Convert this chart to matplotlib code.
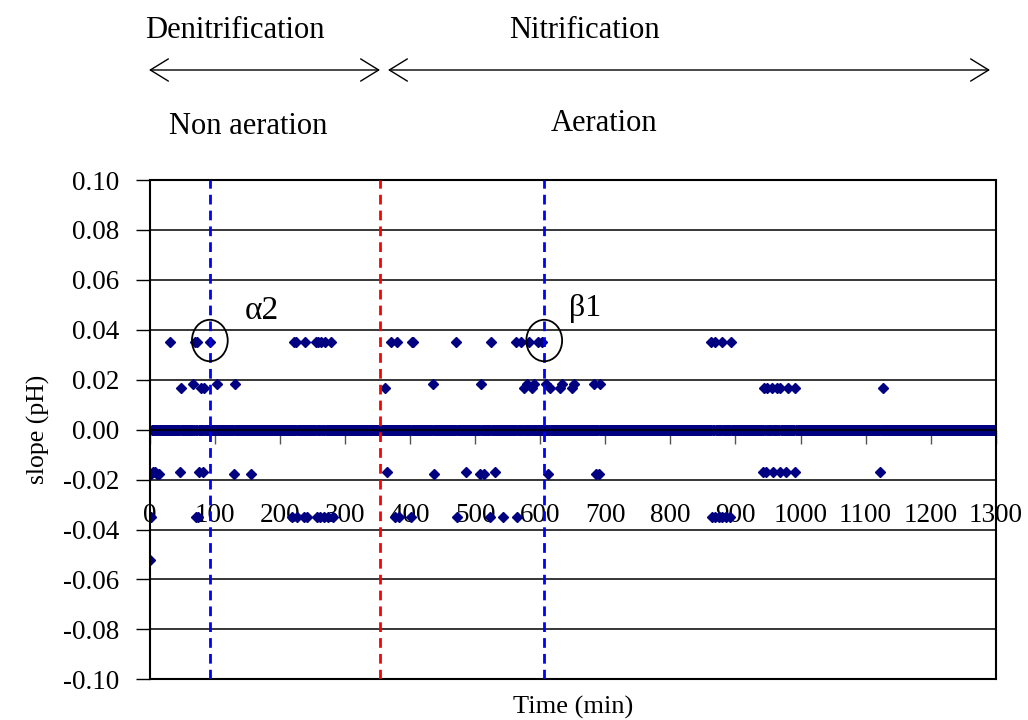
import numpy as np
import matplotlib.pyplot as plt
from matplotlib.patches import Ellipse, FancyArrowPatch

plt.rcParams['font.family'] = ['Liberation Serif', 'DejaVu Serif']
plt.rcParams['axes.unicode_minus'] = False

# sampling grid of the logger (1 min), slope is 0 except at the points below
minutes = np.arange(0, 1301)

# non zero slope readings, grouped by value
t_p035 = [30, 69, 73, 92, 218, 221, 225, 238, 255, 259, 263, 269, 279, 370, 380,
          402, 405, 471, 524, 562, 571, 583, 597, 602, 862, 868, 874, 880, 886, 893]
t_p018 = [66, 103, 131, 435, 509, 580, 591, 608, 634, 651, 682, 691]
t_p017 = [48, 78, 83, 361, 575, 587, 615, 631, 648, 944, 949, 956, 964, 969, 980, 992, 1126]
t_m017 = [5, 8, 46, 76, 81, 364, 486, 531, 942, 947, 958, 968, 978, 991, 1122]
t_m018 = [2, 11, 14, 129, 155, 437, 508, 514, 612, 686, 690]
t_m035 = [1, 70, 74, 218, 226, 236, 241, 256, 261, 267, 274, 282, 377, 382, 401,
          472, 523, 543, 564, 864, 869, 874, 879, 886, 892]
t_m052 = [0]

levels = {0.0352: t_p035, 0.0182: t_p018, 0.0168: t_p017,
          -0.0171: t_m017, -0.0179: t_m018, -0.0351: t_m035, -0.0522: t_m052}

slope = np.zeros(len(minutes))
for v, ts in levels.items():
    for t in ts:
        slope[t] = v

xticks = list(range(0, 1301, 100))
yticks = [-0.10, -0.08, -0.06, -0.04, -0.02, 0.00, 0.02, 0.04, 0.06, 0.08, 0.10]

# phase markers and circled points
t_alpha2 = 92
t_switch = 354
t_beta1 = 606

fig = plt.figure(figsize=(10.28, 7.2), dpi=100)
ax = fig.add_axes([0.1459, 0.0565, 0.8227, 0.6935])

ax.plot(minutes, slope, 'D', color='#000080', markersize=4.6, zorder=2)

ax.axvline(t_alpha2, color='#0000FF', lw=2, ls=(0, (3.5, 2.2)), zorder=3)
ax.axvline(t_switch, color='#FF0000', lw=2, ls=(0, (3.5, 2.2)), zorder=3)
ax.axvline(t_beta1, color='#0000FF', lw=2, ls=(0, (3.5, 2.2)), zorder=3)

for tc in (t_alpha2, t_beta1):
    ax.add_patch(Ellipse((tc, 0.0357), 55, 0.0166, fill=False, edgecolor='black', lw=1.3, zorder=4))
ax.text(172, 0.0475, 'α2', fontsize=24, ha='center', va='center')
ax.text(669, 0.0485, 'β1', fontsize=23, ha='center', va='center')

ax.set_xlim(0, 1300)
ax.set_ylim(-0.10, 0.10)
ax.set_yticks(yticks)
ax.set_yticklabels(['%.2f' % v for v in yticks])
ax.set_xticks(xticks)
ax.set_xticklabels([str(v) for v in xticks])

ax.yaxis.grid(True, color='black', lw=1.1)
ax.set_axisbelow(True)
ax.spines['bottom'].set_position(('data', 0))
ax.spines['bottom'].set_linewidth(1.2)
for s in ('left', 'right', 'top'):
    ax.spines[s].set_linewidth(1.5)
ax.axhline(-0.10, color='black', lw=1.5, clip_on=False)

ax.tick_params(axis='y', direction='out', length=10, width=1, pad=12, labelsize=19.5)
ax.tick_params(axis='x', direction='out', length=10, width=1, pad=43, labelsize=19.5, color='#555555')

ax.set_xlabel('Time (min)', fontsize=19)
ax.xaxis.set_label_coords(0.5, -0.033)
ax.set_ylabel('slope (pH)', fontsize=18.5)
ax.yaxis.set_label_coords(-0.118, 0.5)

fig.text(0.2286, 0.957, 'Denitrification', fontsize=22, ha='center', va='center')
fig.text(0.569, 0.957, 'Nitrification', fontsize=22, ha='center', va='center')
fig.text(0.2412, 0.824, 'Non aeration', fontsize=22, ha='center', va='center')
fig.text(0.5875, 0.828, 'Aeration', fontsize=22, ha='center', va='center')

for x0, x1 in ((149, 380), (388, 990)):
    fig.add_artist(FancyArrowPatch((x0 / 1028, 1 - 70 / 720), (x1 / 1028, 1 - 70 / 720),
                                   transform=fig.transFigure, arrowstyle='<->,head_length=0.65,head_width=0.4',
                                   mutation_scale=20, lw=1, color='black', shrinkA=0, shrinkB=0))

fig.savefig('out.png', dpi=100)
